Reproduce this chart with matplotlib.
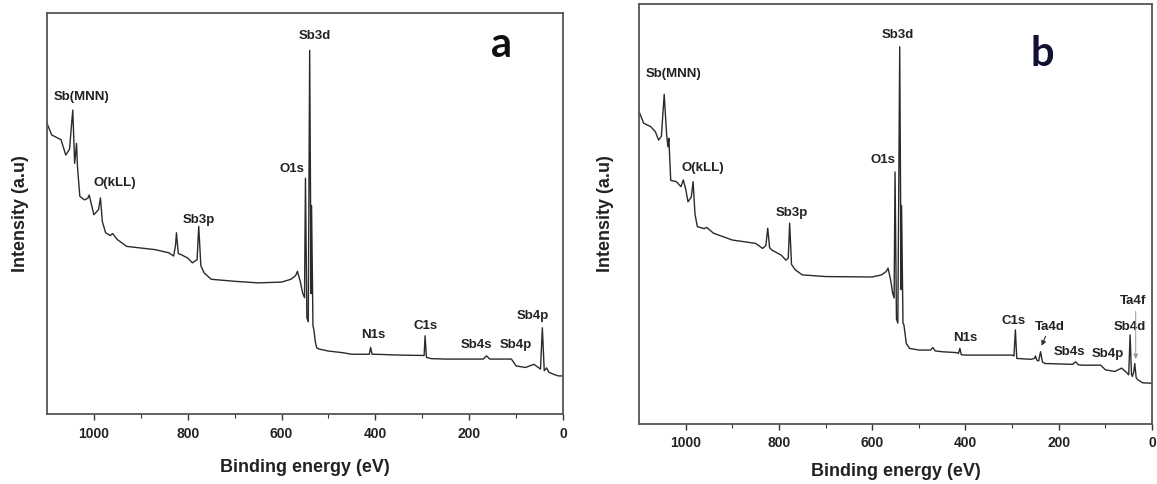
import matplotlib.pyplot as plt

plt.rcParams['font.family'] = ['Liberation Sans', 'DejaVu Sans']
plt.rcParams['font.weight'] = 'bold'

# spectrum a: binding energy (eV) / intensity (a.u., 0-100 of the frame)
be_a = [1100, 1090, 1070, 1060, 1052, 1045, 1041, 1037, 1035, 1030, 1020, 1013, 1010,
        1000, 990, 986, 982, 975, 965, 960, 950, 930, 900, 870, 840, 830, 826, 824,
        820, 815, 800, 790, 780, 776.5, 772, 765, 750, 700, 650, 600, 580, 570, 566,
        560, 555, 551, 549, 546, 543, 540, 537, 536, 533, 531, 528, 525, 520, 500,
        470, 450, 420, 413, 410, 407, 400, 350, 300, 296, 294, 291, 280, 250, 200,
        170, 163, 156, 110, 100, 80, 62, 55, 48, 44, 40, 35, 30, 20, 10, 0]
int_a = [72.5, 69.6, 68.4, 64.6, 66.0, 75.8, 62.5, 67.5, 61.7, 54.3, 53.4, 53.8, 54.6,
         49.7, 51.0, 53.9, 48.0, 45.2, 44.5, 45.0, 43.5, 41.8, 41.4, 41.0, 40.2, 39.4, 42.0, 45.2,
         40.0, 39.8, 38.9, 37.7, 38.5, 46.8, 37.0, 35.2, 33.6, 33.1, 32.7, 32.9, 33.6, 34.5, 35.6,
         33.0, 30.2, 29.0, 58.8, 24.0, 23.0, 90.7, 30.0, 52.0, 22.0, 21.0, 18.0, 16.5, 16.2, 15.7,
         15.3, 14.9, 14.9, 14.9, 16.6, 14.9, 14.9, 14.7, 14.6, 14.6, 19.5, 14.1, 13.8, 13.7, 13.7,
         13.7, 14.5, 13.7, 13.7, 12.0, 11.6, 12.4, 11.8, 11.2, 21.5, 10.8, 11.5, 10.4, 9.9, 9.5, 9.5]

# spectrum b
be_b = [1100, 1090, 1075, 1065, 1058, 1052, 1046, 1041, 1038, 1036, 1032, 1020, 1010,
        1005, 1000, 995, 988, 984, 980, 975, 960, 955, 940, 900, 850, 835, 828, 824,
        820, 815, 795, 785, 780, 777, 773, 765, 750, 700, 600, 580, 570, 566, 560,
        556, 553, 551, 548, 545, 541, 538, 537, 534, 532, 529, 527, 520, 500, 475,
        470, 465, 450, 420, 415, 412, 409, 400, 300, 296, 293, 290, 260, 252, 250,
        247, 243, 239, 235, 230, 200, 170, 164, 158, 150, 110, 100, 80, 65, 55, 50,
        47, 44, 42, 39, 37, 34, 30, 20, 0]
int_b = [74.4, 71.6, 70.8, 69.6, 67.6, 68.5, 78.5, 69.2, 66.0, 68.0, 58.0, 57.7, 56.5,
         58.1, 56.0, 52.9, 54.0, 57.7, 50.0, 47.0, 46.5, 46.8, 45.4, 43.8, 43.0, 41.8, 42.5, 46.6,
         42.0, 41.4, 40.2, 39.0, 39.5, 47.8, 38.0, 36.7, 35.5, 35.1, 35.0, 35.5, 36.3, 37.1, 34.0,
         31.1, 30.0, 60.0, 25.0, 24.0, 89.8, 32.0, 52.0, 24.0, 23.6, 21.0, 19.2, 18.0, 17.6, 17.6,
         18.2, 17.4, 17.2, 17.0, 16.8, 18.0, 16.5, 16.4, 16.4, 16.2, 22.4, 15.6, 15.4, 15.6, 16.2,
         15.2, 15.0, 17.2, 14.8, 14.4, 14.3, 14.2, 14.8, 14.1, 14.0, 14.0, 12.9, 12.5, 13.3, 12.3, 11.7,
         21.2, 11.8, 11.3, 12.5, 14.4, 11.0, 10.5, 9.8, 9.7]

# peak labels: text, energy, height
labels_a = [("Sb(MNN)", 1026, 79.0), ("O(kLL)", 956, 57.6), ("Sb3p", 776, 48.5),
            ("O1s", 578, 61.0), ("Sb3d", 529, 94.2), ("N1s", 404, 19.6),
            ("C1s", 294, 22.0), ("Sb4s", 185, 17.2), ("Sb4p", 100, 17.2),
            ("Sb4p", 64, 24.4)]
labels_b = [("Sb(MNN)", 1025, 83.3), ("O(kLL)", 963, 60.9), ("Sb3p", 772, 50.2),
            ("O1s", 578, 62.9), ("Sb3d", 545, 92.6), ("N1s", 401, 20.5),
            ("C1s", 296, 24.5), ("Ta4d", 219, 23.1), ("Sb4s", 178, 17.1),
            ("Sb4p", 94, 16.7), ("Sb4d", 47, 23.1), ("Ta4f", 40, 29.3)]

fig = plt.figure(figsize=(11.57, 4.84), dpi=100)
ax_a = fig.add_axes([0.0406, 0.1446, 0.446, 0.8285])
ax_b = fig.add_axes([0.5523, 0.1240, 0.4434, 0.8678])


def style(ax, xlab_y, ylab_x):
    ax.set_xlim(1100, 0)
    ax.set_ylim(0, 100)
    ax.set_yticks([])
    ax.set_xticks([1000, 800, 600, 400, 200, 0])
    ax.set_xticks([900, 700, 500, 300, 100], minor=True)
    ax.tick_params(axis='x', which='major', direction='out', length=4, width=1,
                   pad=5, labelsize=10, colors='#333333')
    ax.tick_params(axis='x', which='minor', direction='out', length=3, width=0.8,
                   colors='#333333')
    for lab in ax.get_xticklabels():
        lab.set_fontweight('bold')
        lab.set_color('#222222')
    for sp in ax.spines.values():
        sp.set_color('#555555')
        sp.set_linewidth(1.3)
    ax.set_xlabel("Binding energy (eV)", fontsize=13, fontweight='bold', color='#222222')
    ax.set_ylabel("Intensity (a.u)", fontsize=13, fontweight='bold', color='#222222')
    ax.xaxis.set_label_coords(0.5, xlab_y)
    ax.yaxis.set_label_coords(ylab_x, 0.5)


ax_a.plot(be_a, int_a, color='#2a2a2a', lw=1.0)
for txt, x, y in labels_a:
    ax_a.text(x, y, txt, ha='center', va='center', fontsize=9.5, fontweight='bold', color='#222222')
ax_a.text(132, 92, "a", ha='center', va='center', fontsize=30, fontweight='bold',
          family=['Lato', 'DejaVu Sans'], color='#111111')
style(ax_a, -0.112, -0.035)

ax_b.plot(be_b, int_b, color='#2a2a2a', lw=1.0)
for txt, x, y in labels_b:
    ax_b.text(x, y, txt, ha='center', va='center', fontsize=9.5, fontweight='bold', color='#222222')
ax_b.text(235, 88, "b", ha='center', va='center', fontsize=30, fontweight='bold',
          family=['Lato', 'DejaVu Sans'], color='#111133')
ax_b.annotate("", xy=(239, 18.0), xytext=(226, 21.5),
              arrowprops=dict(arrowstyle='-|>', color='#333333', lw=0.8, mutation_scale=7))
ax_b.annotate("", xy=(35, 14.8), xytext=(35, 27.5),
              arrowprops=dict(arrowstyle='-|>', color='#999999', lw=0.7, mutation_scale=7))
style(ax_b, -0.093, -0.049)

fig.savefig("out.png", dpi=100)
